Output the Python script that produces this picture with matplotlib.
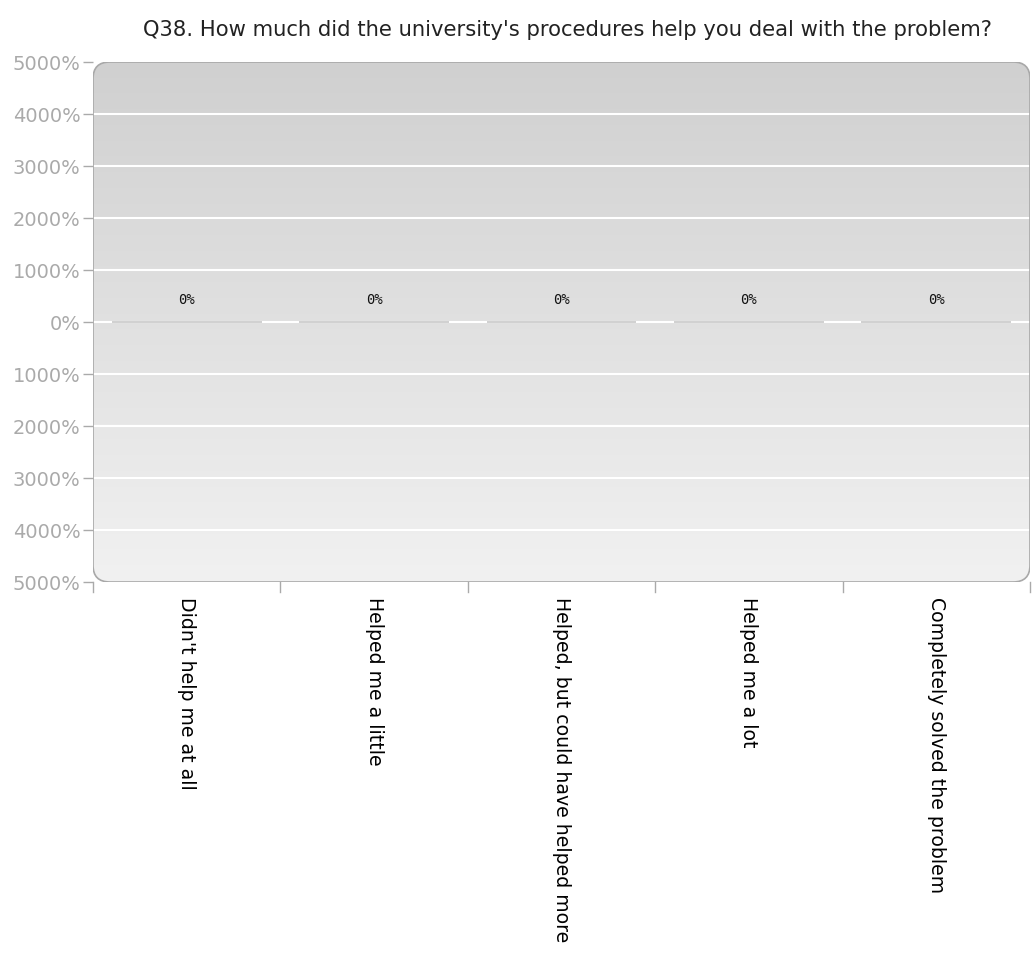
import matplotlib
matplotlib.use("Agg")
import matplotlib.pyplot as plt
import numpy as np
from matplotlib.patches import FancyBboxPatch

title = "Q38. How much did the university's procedures help you deal with the problem?"
categories = ["Didn't help me at all", "Helped me a little",
              "Helped, but could have helped more", "Helped me a lot",
              "Completely solved the problem"]
values = [0, 0, 0, 0, 0]
yticks = [-50, -40, -30, -20, -10, 0, 10, 20, 30, 40, 50]

fig = plt.figure(figsize=(10.34, 9.55), dpi=100)
ax = fig.add_axes([93 / 1034, 1 - 582 / 955, (1030 - 93) / 1034, (582 - 62) / 955])
ax.set_xlim(-0.5, len(categories) - 0.5)
ax.set_ylim(-50, 50)

# rounded plot background with vertical gradient
box = FancyBboxPatch((0, 0), 1, 1, boxstyle="round,pad=0,rounding_size=0.018",
                     transform=ax.transAxes, facecolor="none", edgecolor="#a8a8a8",
                     lw=1.2, zorder=3, mutation_aspect=1.8)
ax.add_patch(box)
grad = np.linspace(0, 1, 256).reshape(-1, 1)
im = ax.imshow(grad, extent=(0, 1, 0, 1), transform=ax.transAxes, aspect="auto",
               cmap=matplotlib.colors.LinearSegmentedColormap.from_list(
                   "bg", ["#d0d0d0", "#f1f1f1"]), origin="upper", zorder=0)
im.set_clip_path(box)

for y in yticks:
    if y in (-50, 50):
        continue
    ax.axhline(y, color="white", lw=1.5, zorder=1)

x = np.arange(len(categories))
ax.bar(x, values, width=0.8, color="#c8c8c8", edgecolor="#c8c8c8", lw=1.2, zorder=2)
for xi, v in zip(x, values):
    ax.text(xi, v + 4.3, f"{v}%", ha="center", va="center", fontsize=10,
            color="#111111", family="DejaVu Sans Mono", zorder=4)

for s in ax.spines.values():
    s.set_visible(False)

ax.set_yticks(yticks)
ax.set_yticklabels([f"{abs(v) * 100}%" for v in yticks], color="#aaaaaa", fontsize=14)
ax.tick_params(axis="y", length=7, color="#aaaaaa", width=1, pad=2)

ax.set_xticks(x)
ax.set_xticklabels(categories, rotation=-90, va="top", ha="center", fontsize=13.6)
ax.tick_params(axis="x", length=0, pad=11)
for b in np.arange(-0.5, len(categories), 1.0):
    ax.plot([b, b], [-50, -52], color="#aaaaaa", lw=1, clip_on=False, zorder=3)

fig.text(0.549, 1 - 30 / 955, title, ha="center", va="center", fontsize=15.2,
         color="#222222")

fig.savefig("out.png", dpi=100, facecolor="white")
